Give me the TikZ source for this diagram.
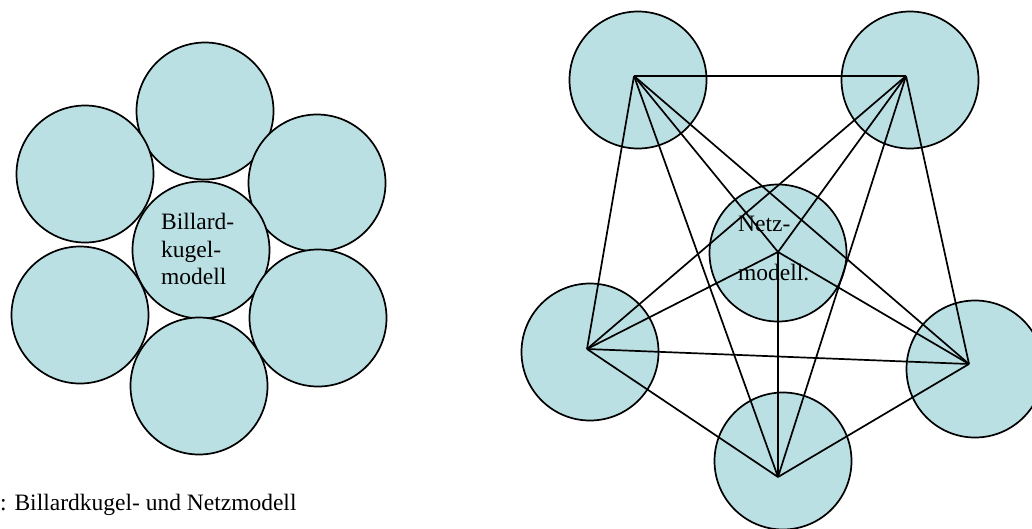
\documentclass[tikz,border=0pt]{standalone}
\usepackage{fontspec}
\setmainfont{Liberation Serif}
\definecolor{ball}{RGB}{187,224,227}
\begin{document}
\begin{tikzpicture}[x=1pt,y=-1pt,
  ball/.style={circle,draw=black,line width=1.7pt,fill=ball,minimum size=137pt,inner sep=0pt},
  edge/.style={draw=black,line width=1.7pt},
  txt/.style={inner sep=0pt,anchor=base west,font=\fontsize{23.5}{27.5}\selectfont}]
\useasboundingbox (0,0) rectangle (1032,528);
% left cluster
\node[ball] (t)  at (205,111) {};
\node[ball] (ul) at (85,174) {};
\node[ball] (ur) at (317,183) {};
\node[ball] (c)  at (201,250) {};
\node[ball] (ll) at (80,315) {};
\node[ball] (lr) at (318,318) {};
\node[ball] (b)  at (199,386) {};
\node[txt] (l1) at (161,229) {Billard-};
\node[txt] (l2) at (161,257) {kugel-};
\node[txt] (l3) at (161,284) {modell};
\node[txt] (cap) at (0,510) {: Billardkugel- und Netzmodell};
% right cluster
\node[ball] (ca) at (638,80) {};
\node[ball] (cb) at (910,80) {};
\node[ball] (cf) at (778,253) {};
\node[ball] (cc) at (590,352) {};
\node[ball] (cd) at (975,369) {};
\node[ball] (ce) at (783,461) {};
\coordinate (A) at (634,76);
\coordinate (B) at (906,76);
\coordinate (C) at (587,349);
\coordinate (D) at (969,364);
\coordinate (E) at (778,477);
\coordinate (F) at (778,252);
\foreach \p/\q in {A/B,A/C,A/D,A/E,A/F,B/C,B/D,B/E,B/F,C/D,C/E,C/F,D/E,D/F,E/F}
  \draw[edge] (\p) -- (\q);
\node[txt] (n1) at (738,231) {Netz-};
\node[txt] (n2) at (738,280) {modell.};
\end{tikzpicture}
\end{document}
